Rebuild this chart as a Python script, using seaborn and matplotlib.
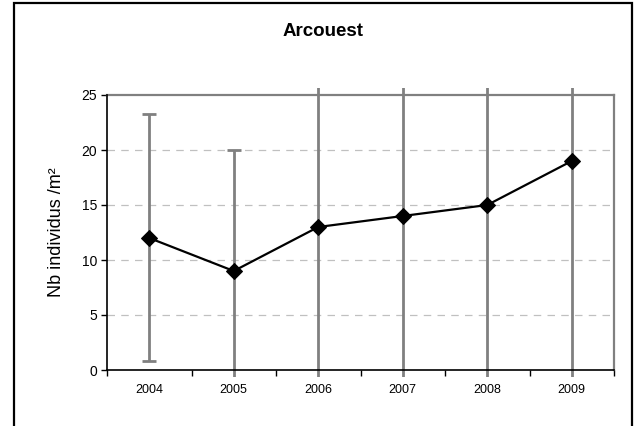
import matplotlib
matplotlib.use("Agg")
import matplotlib.pyplot as plt
import matplotlib.patches as mpatches
import seaborn as sns
import pandas as pd
import numpy as np

years = ["2004", "2005", "2006", "2007", "2008", "2009"]
values = [12, 9, 13, 14, 15, 19]
err_low = [11.2, 11, 20, 20, 22, 25]
err_high = [11.3, 11, 20, 20, 22, 25]

sns.set_theme(style="white")
plt.rcParams['font.family'] = ['Liberation Sans', 'DejaVu Sans']
plt.rcParams['text.color'] = 'black'
plt.rcParams['axes.labelcolor'] = 'black'
plt.rcParams['xtick.color'] = 'black'
plt.rcParams['ytick.color'] = 'black'

df = pd.DataFrame({"year": years, "value": values})
df["pos"] = np.arange(len(years))

fig = plt.figure(figsize=(6.36, 4.26), dpi=100)
ax = fig.add_axes([107/636, 1-370/426, (614-107)/636, (370-95)/426])

# figure border
fig.patches.append(mpatches.Rectangle((14/636, -0.05), (632-14)/636, 1-3/426+0.05,
                                      transform=fig.transFigure, fill=False,
                                      edgecolor='black', linewidth=1.6, zorder=0))

ax.set_xlim(-0.5, 5.5)
ax.set_ylim(0, 25)
ax.set_yticks([0, 5, 10, 15, 20, 25])
for yv in [5, 10, 15, 20]:
    ax.axhline(yv, color='#c0c0c0', linestyle=(0, (6, 5)), linewidth=0.9, zorder=1)

eb = ax.errorbar(df["pos"], df["value"], yerr=[err_low, err_high], fmt='none',
                 ecolor='#808080', elinewidth=2, capsize=5, capthick=2, zorder=2)
clip = mpatches.Rectangle((-0.5, -7/275), 2, 1+14/275, transform=ax.transAxes,
                          fill=False, visible=False)
ax.add_patch(clip)
for art in list(eb.lines[1]) + list(eb.lines[2]):
    art.set_clip_path(clip)

sns.lineplot(data=df, x="pos", y="value", ax=ax, color='black', linewidth=1.6,
             marker='D', markersize=8, markeredgecolor='black', zorder=3)

ax.set_xticks(df["pos"])
ax.set_xticklabels(years, fontsize=9)
ax.set_xticks(np.arange(-0.5, 6, 1), minor=True)
ax.tick_params(axis='x', which='major', length=0, pad=10)
ax.tick_params(axis='x', which='minor', length=4, width=1, color='black', direction='out')
ax.tick_params(axis='y', which='major', length=4, width=1, color='black', direction='out',
               labelsize=10, pad=3)
ax.tick_params(bottom=True, left=True, which='both')
ax.tick_params(axis='x', which='major', bottom=False)

for s in ['left', 'bottom']:
    ax.spines[s].set_color('black')
    ax.spines[s].set_linewidth(1.2)
for s in ['top', 'right']:
    ax.spines[s].set_color('#808080')
    ax.spines[s].set_linewidth(1.6)
ax.spines['left'].set_zorder(4)
ax.spines['bottom'].set_zorder(4)

ax.set_xlabel("")
ax.set_ylabel("Nb individus /m²", fontsize=13, labelpad=12)
fig.text(323/636, 1-32/426, "Arcouest", ha='center', va='center',
         fontsize=13.5, fontweight='bold', color='black')

fig.savefig("out.png", dpi=100)
